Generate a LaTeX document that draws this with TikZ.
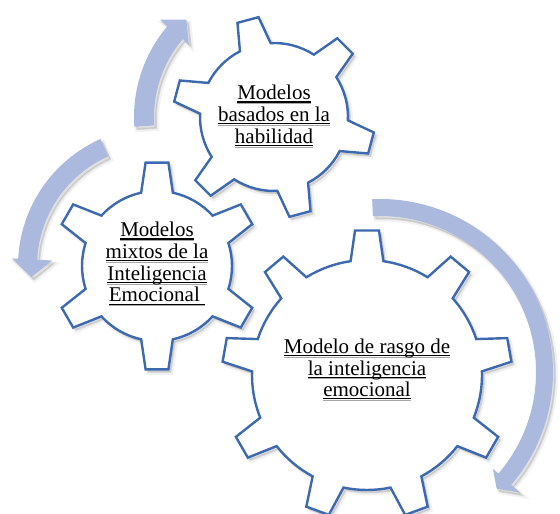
\documentclass[tikz,border=0pt]{standalone}
\usepackage{fontspec}
\setmainfont{Liberation Serif}
\definecolor{gearblue}{HTML}{3D69B1}
\definecolor{arrowblue}{HTML}{AAB9DD}
\definecolor{ulshadow}{HTML}{A8A8A8}
\newsavebox\myulbox
\newcommand\myuline[1]{\sbox\myulbox{#1}\rlap{\textcolor{ulshadow}{\rule[-4.4pt]{\wd\myulbox}{1.1pt}}}\rlap{\rule[-2.7pt]{\wd\myulbox}{1.1pt}}\usebox\myulbox}
% n, theta0, R, r, half tip angle, half base angle
\newcommand\gearshape[6]{%
  ({#2-#6}:#4pt)
  \foreach \k in {1,...,#1}{
    -- ({#2+(\k-1)*360/#1-#5}:#3pt)
    -- ({#2+(\k-1)*360/#1+#5}:#3pt)
    -- ({#2+(\k-1)*360/#1+#6}:#4pt)
    arc[start angle={#2+(\k-1)*360/#1+#6}, end angle={#2+\k*360/#1-#6}, radius=#4pt]
  } -- cycle}
% a0, ahead, rin, rout, wing in, wing out, tip angle, tip radius
\newcommand\arrowshape[8]{%
  ({#1}:#3pt) -- ({#1}:#4pt)
  arc[start angle={#1}, end angle={#2}, radius=#4pt]
  -- ({#2}:#6pt) -- ({#7}:#8pt) -- ({#2}:#5pt) -- ({#2}:#3pt)
  arc[start angle={#2}, end angle={#1}, radius=#3pt] -- cycle}
\tikzset{
  gearline/.style={draw=gearblue, fill=white, line width=2.4pt, line join=miter},
  arrowbody/.style={fill=arrowblue},
  shadowA/.style={fill=black, fill opacity=0.07, draw=black, draw opacity=0.05, line width=4pt},
  shadowB/.style={fill=black, fill opacity=0.06, draw=black, draw opacity=0.06, line width=1.5pt},
  lbl/.style={align=center, inner sep=0pt, font=\fontsize{21pt}{21.7pt}\selectfont}
}
\begin{document}
\begin{tikzpicture}[x=1pt,y=1pt]
\useasboundingbox (0,0) rectangle (560,514);
\clip (0,0) rectangle (560,514);
% ---- arrows ----
\begin{scope}[shift={(380,142)}]
  \path[shadowA, shift={(3,-3.5)}] \arrowshape{92.6}{-40.7}{156}{173}{149}{185}{-45}{165};
  \path[shadowB, shift={(2,-2.5)}] \arrowshape{92.6}{-40.7}{156}{173}{149}{185}{-45}{165};
  \path[arrowbody] \arrowshape{92.6}{-40.7}{156}{173}{149}{185}{-45}{165};
\end{scope}
\begin{scope}[shift={(274,397)}]
  \path[shadowA, shift={(3,-3.5)}] \arrowshape{184}{139.5}{120}{140}{112}{150}{132}{131};
  \path[shadowB, shift={(2,-2.5)}] \arrowshape{184}{139.5}{120}{140}{112}{150}{132}{131};
  \path[arrowbody] \arrowshape{184}{139.5}{120}{140}{112}{150}{132}{131};
\end{scope}
\begin{scope}[shift={(157,248)}]
  \path[shadowA, shift={(3,-3.5)}] \arrowshape{114}{177}{120}{139}{105}{145}{185}{126};
  \path[shadowB, shift={(2,-2.5)}] \arrowshape{114}{177}{120}{139}{105}{145}{185}{126};
  \path[arrowbody] \arrowshape{114}{177}{120}{139}{105}{145}{185}{126};
\end{scope}
% ---- gears ----
\begin{scope}[shift={(367,139)}]
  \path[shadowA, shift={(3,-3.5)}] \gearshape{9}{90}{145}{115}{4.74}{8.2};
  \path[shadowB, shift={(2,-2.5)}] \gearshape{9}{90}{145}{115}{4.74}{8.2};
  \path[gearline] \gearshape{9}{90}{145}{115}{4.74}{8.2};
\end{scope}
\begin{scope}[shift={(157,248)}]
  \path[shadowA, shift={(3,-3.5)}] \gearshape{6}{90}{104}{75}{6.3}{12.2};
  \path[shadowB, shift={(2,-2.5)}] \gearshape{6}{90}{104}{75}{6.3}{12.2};
  \path[gearline] \gearshape{6}{90}{104}{75}{6.3}{12.2};
\end{scope}
\begin{scope}[shift={(274,397)}]
  \path[shadowA, shift={(3,-3.5)}] \gearshape{6}{105}{101}{74}{6.2}{12.4};
  \path[shadowB, shift={(2,-2.5)}] \gearshape{6}{105}{101}{74}{6.2}{12.4};
  \path[gearline] \gearshape{6}{105}{101}{74}{6.2}{12.4};
\end{scope}
% ---- labels ----
\node[lbl] (habilidad) at (274,397.5) {\myuline{Modelos}\\\myuline{basados en la}\\\myuline{habilidad}};
\node[lbl] (mixtos) at (157,249.7) {\myuline{Modelos}\\\myuline{mixtos de la}\\\myuline{Inteligencia}\\\myuline{Emocional\ }};
\node[lbl] (rasgo) at (367,144) {\myuline{Modelo de rasgo de}\\\myuline{la inteligencia}\\\myuline{emocional}};
\end{tikzpicture}
\end{document}
